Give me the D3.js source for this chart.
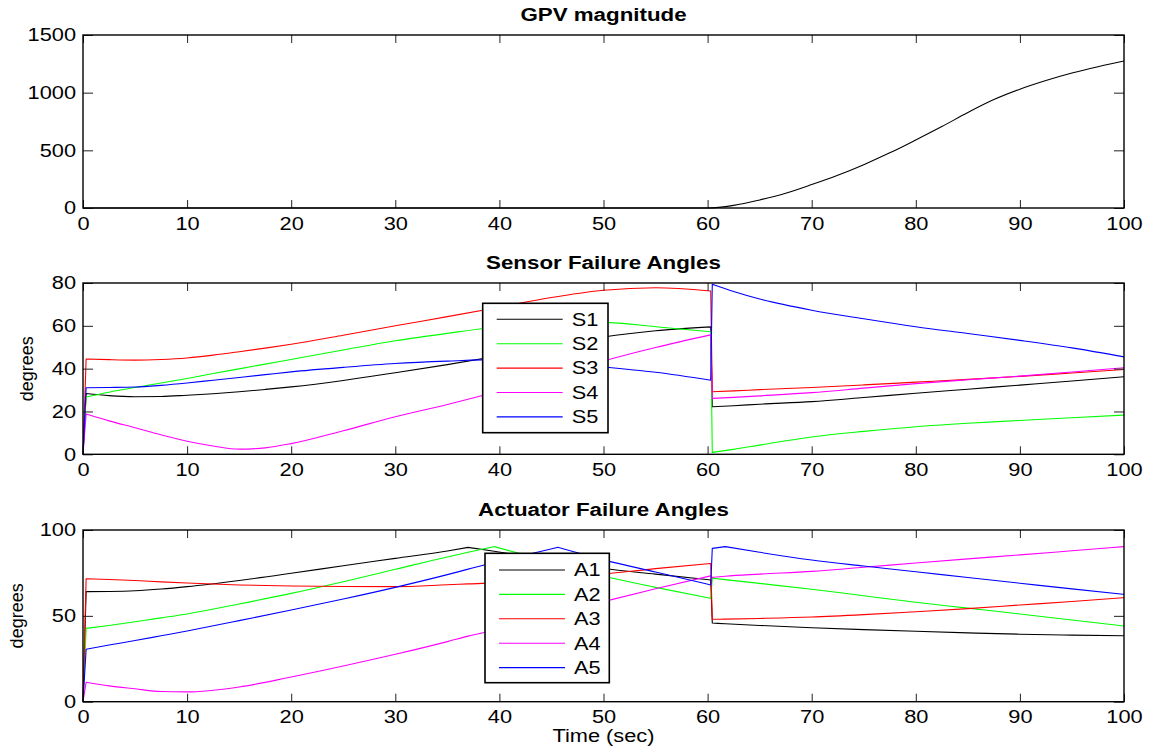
<!DOCTYPE html>
<html>
<head>
<meta charset="utf-8">
<script src="https://cdn.jsdelivr.net/npm/d3@7"></script>
<style>
  html, body { margin: 0; padding: 0; background: #fff; }
  svg { display: block; font-family: "Liberation Sans", Arial, Helvetica, sans-serif; }
</style>
</head>
<body>
<svg id="chart" width="1155" height="753"></svg>
<script>
// ---------------- data ----------------
// GPV magnitude over time
const gpvTime   = [0, 60, 62.5, 65, 67.5, 70, 72.5, 75, 77.5, 80, 82.5, 85, 87.5, 90, 92.5, 95, 97.5, 100];
const gpvValues = [0, 0, 23, 70, 128, 203, 284, 376, 478, 590, 706, 828, 940, 1030, 1105, 1170, 1225, 1274];
const gpvTicks  = [0, 500, 1000, 1500];

// Sensor failure angles (degrees)
const sensorTime = [0, 0.3, 2.5, 5, 7.5, 10, 12.5, 15, 17.5, 20, 25, 30, 35, 40, 45, 50, 55, 60.3, 60.45, 62.5, 65, 70, 75, 80, 85, 90, 95, 100];
const S1 = [0, 28.4, 27.4, 26.9, 27.0, 27.6, 28.3, 29.2, 30.3, 31.5, 34.5, 38.1, 41.9, 46.0, 50.5, 54.8, 57.7, 59.5, 22.2, 22.7, 23.4, 24.6, 26.5, 28.5, 30.4, 32.3, 34.2, 36.2];
const S2 = [0, 26.8, 29.0, 31.2, 33.3, 35.4, 37.7, 39.9, 42.1, 44.3, 48.7, 53.0, 56.5, 59.6, 61.5, 61.6, 59.6, 57.2, 0.9, 2.3, 4.3, 8.1, 10.7, 12.9, 14.5, 15.8, 17.1, 18.3];
const S3 = [0, 44.5, 44.2, 44.0, 44.3, 45.0, 46.3, 47.9, 49.6, 51.4, 55.6, 60.0, 64.3, 68.7, 73.2, 76.6, 77.8, 76.3, 29.2, 29.6, 30.2, 31.2, 32.4, 33.7, 35.0, 36.4, 38.0, 39.6];
const S4 = [0, 18.8, 15.6, 12.4, 9.1, 6.1, 3.9, 2.4, 3.0, 5.0, 11.0, 17.5, 23.3, 29.6, 36.4, 43.6, 49.9, 55.8, 26.1, 26.6, 27.3, 28.8, 30.9, 33.0, 34.8, 36.5, 38.4, 40.4];
const S5 = [0, 31.1, 31.2, 31.4, 32.2, 33.3, 34.6, 35.9, 37.2, 38.5, 40.6, 42.4, 43.5, 44.2, 42.8, 40.8, 38.3, 34.6, 79.4, 76.0, 72.5, 67.3, 63.3, 59.6, 56.4, 53.2, 49.7, 45.5];
const sensorNames = ["S1", "S2", "S3", "S4", "S5"];
const sensorTicks = [0, 20, 40, 60, 80];

// Actuator failure angles (degrees)
const actuatorTime = [0, 0.3, 2.5, 5, 7.5, 10, 15, 20, 25, 30, 35, 37, 39.5, 42.5, 45.6, 50, 55, 60.3, 60.45, 61.7, 65, 70, 75, 80, 85, 90, 95, 100];
const A1 = [0, 64.1, 64.2, 64.6, 65.6, 67.0, 70.6, 74.8, 79.2, 83.5, 87.8, 89.9, 87.6, 84.8, 81.9, 77.6, 74.3, 70.9, 45.8, 45.4, 44.4, 43.1, 42.0, 41.0, 40.1, 39.3, 38.8, 38.4];
const A2 = [0, 42.7, 44.4, 46.6, 48.8, 51.1, 56.9, 63.1, 69.9, 77.1, 84.3, 87.0, 90.3, 85.4, 80.4, 73.2, 66.6, 60.2, 71.9, 71.1, 68.9, 65.5, 61.7, 57.9, 54.5, 51.1, 47.6, 44.1];
const A3 = [0, 71.6, 71.2, 70.6, 69.8, 69.1, 68.0, 67.4, 67.1, 67.0, 68.1, 68.6, 69.2, 70.6, 72.2, 74.3, 77.5, 80.5, 48.0, 48.1, 48.5, 49.3, 50.7, 52.4, 54.2, 56.3, 58.4, 60.6];
const A4 = [0, 11.3, 9.2, 7.5, 5.9, 5.7, 8.6, 14.4, 20.8, 27.6, 35.0, 38.2, 41.6, 46.3, 51.4, 58.3, 65.8, 73.3, 72.4, 73.1, 74.3, 75.9, 78.3, 80.8, 83.2, 85.5, 87.9, 90.3];
const A5 = [0, 30.5, 33.0, 35.6, 38.4, 41.2, 47.2, 53.4, 59.8, 66.6, 74.0, 77.2, 81.1, 85.4, 89.9, 82.6, 75.5, 68.0, 89.3, 90.3, 87.0, 82.5, 79.0, 75.7, 72.3, 69.0, 65.7, 62.5];
const actuatorNames = ["A1", "A2", "A3", "A4", "A5"];
const actuatorTicks = [0, 50, 100];

// times where a trace is not smooth (start-up, reconfiguration jump, fold-over peaks)
const commonBreaks = [0.3, 60.3, 60.45];
const actuatorPeaks = { A1: [37], A2: [39.5], A3: [], A4: [], A5: [45.6, 61.7] };

const timeTicks = d3.range(0, 101, 10);
const traceColors = ["#000000", "#00ff00", "#ff0000", "#ff00ff", "#0000ff"];

// ---------------- layout ----------------
const svg = d3.select("#chart");
const FONT = 18;
const x = d3.scaleLinear().domain([0, 100]).range([83, 1124]);

const panels = [
  { title: "GPV magnitude",           top: 35,  bottom: 208,   domain: [0, 1500], ticks: gpvTicks },
  { title: "Sensor Failure Angles",   top: 283, bottom: 454.3, domain: [0, 80],   ticks: sensorTicks, ylabel: "degrees", ylabelX: 33 },
  { title: "Actuator Failure Angles", top: 530, bottom: 701.7, domain: [0, 100],  ticks: actuatorTicks, ylabel: "degrees", ylabelX: 23 }
];
panels.forEach(p => { p.y = d3.scaleLinear().domain(p.domain).range([p.bottom, p.top]); });

// path built from smooth pieces joined at break points
function tracePath(times, vals, breaks, y) {
  const pts = times.map((t, i) => [t, vals[i]]);
  const idx = [0];
  times.forEach((t, i) => { if (i > 0 && i < times.length - 1 && breaks.includes(t)) idx.push(i); });
  idx.push(times.length - 1);
  const smooth = d3.line().x(d => x(d[0])).y(d => y(d[1])).curve(d3.curveMonotoneX);
  const straight = d3.line().x(d => x(d[0])).y(d => y(d[1]));
  let d = "";
  for (let k = 0; k < idx.length - 1; k++) {
    const seg = pts.slice(idx[k], idx[k + 1] + 1);
    let s = (seg.length > 2 ? smooth : straight)(seg);
    if (k > 0) s = "L" + s.slice(1);
    d += s;
  }
  return d;
}

function drawLines(p, times, series, breaksFor) {
  const g = svg.append("g");
  series.forEach((vals, i) => {
    g.append("path")
      .attr("d", tracePath(times, vals, breaksFor(i), p.y))
      .attr("fill", "none")
      .attr("stroke", traceColors[i])
      .attr("stroke-width", 1.1)
      .attr("stroke-linejoin", "round");
  });
}

function drawFrame(p) {
  const g = svg.append("g");
  const [x0, x1] = x.range();
  const fmt = d3.format("d");
  const styleAxis = sel => {
    sel.select(".domain").remove();
    sel.selectAll(".tick line").attr("stroke", "#222").attr("stroke-width", 1);
    sel.selectAll(".tick text").attr("fill", "#000").style("font-size", FONT + "px").attr("class", "stretch");
  };
  g.append("g").attr("transform", `translate(0,${p.bottom})`)
    .call(d3.axisBottom(x).tickValues(timeTicks).tickSize(-8).tickPadding(9).tickFormat(fmt)).call(styleAxis);
  g.append("g").attr("transform", `translate(0,${p.top})`)
    .call(d3.axisTop(x).tickValues(timeTicks).tickSize(-8).tickFormat("")).call(styleAxis);
  g.append("g").attr("transform", `translate(${x0},0)`)
    .call(d3.axisLeft(p.y).tickValues(p.ticks).tickSize(-10).tickPadding(7).tickFormat(fmt)).call(styleAxis);
  g.append("g").attr("transform", `translate(${x1},0)`)
    .call(d3.axisRight(p.y).tickValues(p.ticks).tickSize(-10).tickFormat("")).call(styleAxis);
  g.selectAll("g").attr("font-family", null);
  g.append("rect")
    .attr("x", x0).attr("y", p.top).attr("width", x1 - x0).attr("height", p.bottom - p.top)
    .attr("fill", "none").attr("stroke", "#000").attr("stroke-width", 1.4);
  svg.append("text")
    .attr("class", "stretch-bold")
    .attr("x", (x0 + x1) / 2).attr("y", p.top - 14.5)
    .attr("text-anchor", "middle").style("font-size", FONT + "px").style("font-weight", "bold")
    .text(p.title);
  if (p.ylabel) {
    svg.append("text")
      .attr("transform", `translate(${p.ylabelX},${(p.top + p.bottom) / 2}) rotate(-90)`)
      .attr("text-anchor", "middle").style("font-size", FONT + "px")
      .text(p.ylabel);
  }
}

function drawLegend(names, box, firstRow) {
  const g = svg.append("g");
  g.append("rect")
    .attr("x", box.x).attr("y", box.y).attr("width", box.w).attr("height", box.h)
    .attr("fill", "#fff").attr("stroke", "#000").attr("stroke-width", 1.6);
  names.forEach((n, i) => {
    const yy = firstRow + i * 24.4;
    g.append("line")
      .attr("x1", box.x + 14).attr("x2", box.x + 80).attr("y1", yy).attr("y2", yy)
      .attr("stroke", traceColors[i]).attr("stroke-width", 1.1);
    g.append("text")
      .attr("class", "stretch")
      .attr("x", box.x + 89).attr("y", yy + 6.3)
      .style("font-size", FONT + "px")
      .text(n);
  });
}

// ---------------- panels ----------------
// GPV magnitude
svg.append("path")
  .datum(gpvTime.map((t, i) => [t, gpvValues[i]]))
  .attr("d", d3.line().x(d => x(d[0])).y(d => panels[0].y(d[1])).curve(d3.curveMonotoneX))
  .attr("fill", "none").attr("stroke", "#000").attr("stroke-width", 1.1);
drawFrame(panels[0]);

// Sensor failure angles
drawLines(panels[1], sensorTime, [S1, S2, S3, S4, S5], () => commonBreaks);
drawFrame(panels[1]);
drawLegend(sensorNames, { x: 482.7, y: 303.3, w: 125.3, h: 129.4 }, 319.3);

// Actuator failure angles
drawLines(panels[2], actuatorTime, [A1, A2, A3, A4, A5],
  i => commonBreaks.concat(actuatorPeaks[actuatorNames[i]]));
drawFrame(panels[2]);
drawLegend(actuatorNames, { x: 485, y: 553.3, w: 124.3, h: 129.4 }, 570);

// x-axis title
svg.append("text")
  .attr("class", "stretch")
  .attr("x", (x.range()[0] + x.range()[1]) / 2).attr("y", 742)
  .attr("text-anchor", "middle").style("font-size", FONT + "px")
  .text("Time (sec)");

// wide glyph proportions of the horizontal labels
svg.selectAll("text.stretch").each(function () {
  const w = this.getComputedTextLength();
  if (w > 0) d3.select(this).attr("textLength", w * 1.21).attr("lengthAdjust", "spacingAndGlyphs");
});
svg.selectAll("text.stretch-bold").each(function () {
  const w = this.getComputedTextLength();
  if (w > 0) d3.select(this).attr("textLength", w * 1.24).attr("lengthAdjust", "spacingAndGlyphs");
});
</script>
</body>
</html>
